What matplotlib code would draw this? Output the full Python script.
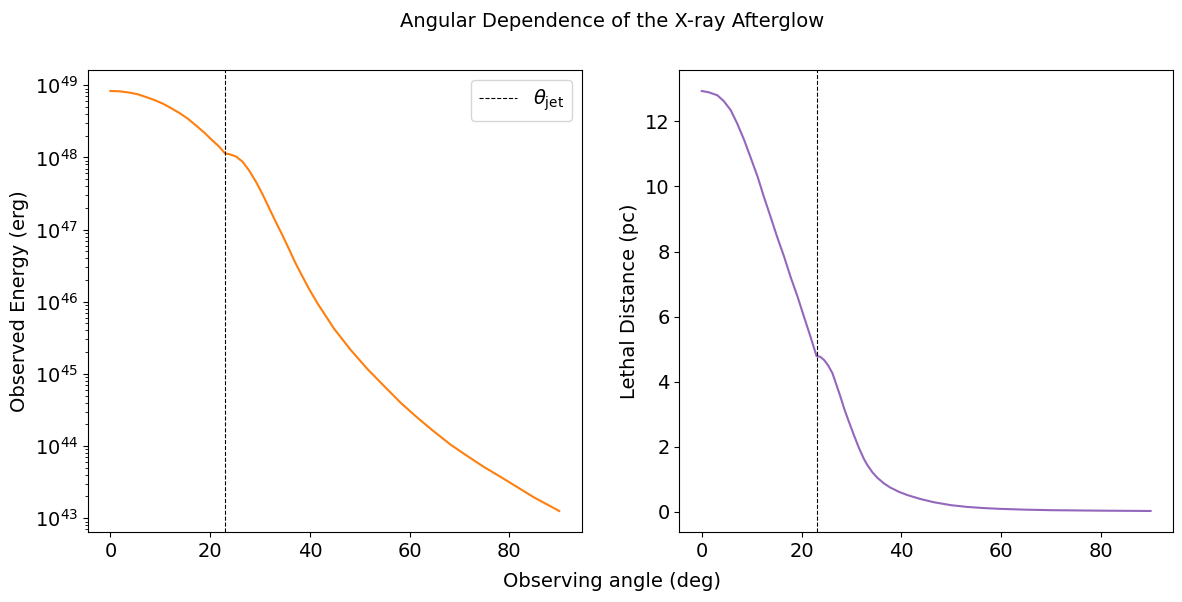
import numpy as np
import matplotlib
matplotlib.use("Agg")
import matplotlib.pyplot as plt

plt.rcParams['font.size'] = 14

theta_jet = 23.0

# observed energy (erg) as log10 values
angle_E = [0, 1.8, 3.8, 5.5, 7.1, 8.8, 10.5, 12.1, 13.8, 15.5, 17.1, 18.8,
           20.4, 21.8, 23.0, 23.7, 24.5, 25.2, 26.5, 27.8, 29.2, 30.5, 31.8,
           33.2, 34.5, 35.8, 37.0, 38.2, 39.8, 41.5, 44.8, 48.2, 51.5, 54.9,
           58.2, 61.6, 64.9, 68.2, 71.6, 74.9, 78.3, 81.6, 84.9, 90]
log_E = [48.921, 48.917, 48.899, 48.875, 48.838, 48.797, 48.746, 48.686,
         48.617, 48.538, 48.446, 48.345, 48.238, 48.15, 48.054, 48.048,
         48.03, 48.012, 47.94, 47.82, 47.66, 47.49, 47.30, 47.10, 46.92,
         46.73, 46.55, 46.39, 46.18, 45.98, 45.63, 45.33, 45.07, 44.83,
         44.60, 44.39, 44.20, 44.02, 43.86, 43.71, 43.57, 43.43, 43.29,
         43.10]
energy = 10.0 ** np.array(log_E)

# lethal distance (pc), right panel
angle_D = [0, 1.4, 3.1, 4.4, 5.8, 7.1, 8.5, 9.8, 11.2, 12.4, 13.8, 15.1,
           16.5, 17.8, 19.2, 20.5, 21.8, 23.0, 23.7, 24.5, 25.3, 26.2, 27.0,
           27.8, 28.6, 29.5, 30.5, 31.5, 32.5, 33.2, 34.2, 35.2, 36.5, 37.8,
           39.5, 41.2, 43.8, 46.5, 49.9, 53.2, 56.5, 59.9, 65, 70, 80, 90]
dist = [12.93, 12.89, 12.80, 12.62, 12.34, 11.93, 11.42, 10.88, 10.29, 9.70,
        9.06, 8.45, 7.84, 7.22, 6.61, 5.99, 5.38, 4.79, 4.77, 4.67, 4.51,
        4.26, 3.90, 3.54, 3.15, 2.77, 2.36, 1.97, 1.63, 1.44, 1.22, 1.05,
        0.88, 0.75, 0.62, 0.52, 0.40, 0.30, 0.21, 0.155, 0.12, 0.095, 0.07,
        0.055, 0.04, 0.03]

fig, (ax1, ax2) = plt.subplots(1, 2, figsize=(11.82, 6.02), dpi=100)
fig.subplots_adjust(left=0.0745, right=0.9924, top=0.8837, bottom=0.1163,
                    wspace=0.198)

ax1.plot(angle_E, energy, color='C1')
ax1.axvline(theta_jet, color='k', ls='--', lw=0.8, label=r'$\theta_{\rm jet}$')
ax1.set_yscale('log')
ax1.set_ylabel('Observed Energy (erg)')
ax1.legend()

ax2.plot(angle_D, dist, color='C4')
ax2.axvline(theta_jet, color='k', ls='--', lw=0.8)
ax2.set_ylabel('Lethal Distance (pc)')

fig.suptitle('Angular Dependence of the X-ray Afterglow', fontsize=14,
             x=0.518, y=0.98)
fig.supxlabel('Observing angle (deg)', fontsize=14, x=0.518, y=0.018)
plt.savefig('out.png')
